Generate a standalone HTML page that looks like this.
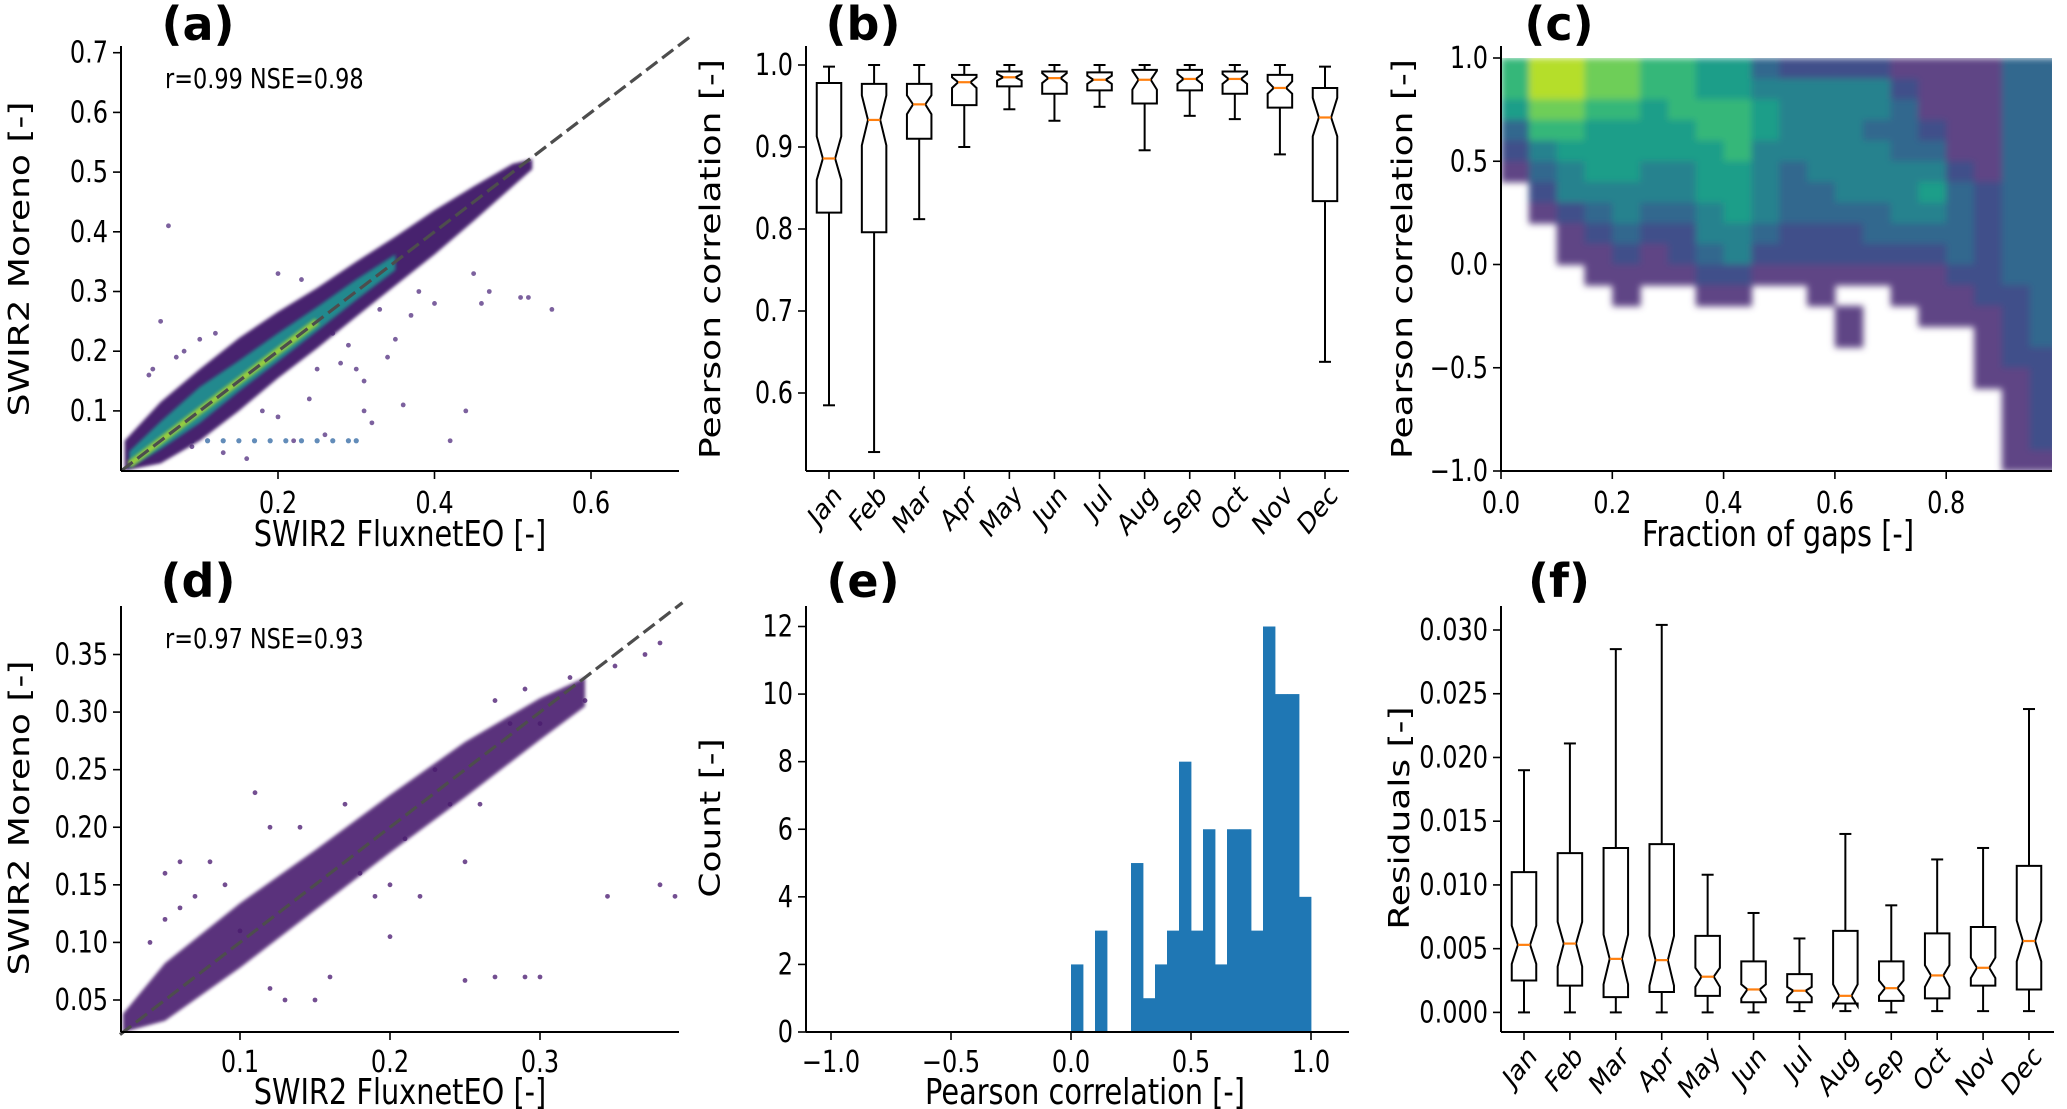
<!DOCTYPE html>
<html><head><meta charset="utf-8"><style>
html,body{margin:0;padding:0;background:#fff;}
svg{display:block;font-family:"DejaVu Sans","Liberation Sans",sans-serif;}
</style></head><body>
<svg id="fig" width="2067" height="1109" viewBox="0 0 2067 1109" xmlns="http://www.w3.org/2000/svg">
<defs>
<filter id="soft" x="-5%" y="-5%" width="110%" height="110%"><feGaussianBlur stdDeviation="1.6"/></filter>
<filter id="softc" x="-2%" y="-2%" width="104%" height="104%"><feGaussianBlur stdDeviation="3.5"/></filter>
</defs>
</svg>
<script>
// ---------- DATA ----------
const months = ["Jan","Feb","Mar","Apr","May","Jun","Jul","Aug","Sep","Oct","Nov","Dec"];
// panel b
const bLo  = [0.585,0.528,0.812,0.900,0.946,0.932,0.949,0.896,0.938,0.934,0.891,0.638];
const bQ1  = [0.820,0.796,0.910,0.951,0.974,0.965,0.969,0.953,0.969,0.965,0.948,0.834];
const bMed = [0.886,0.933,0.952,0.979,0.985,0.984,0.982,0.982,0.983,0.983,0.972,0.936];
const bQ3  = [0.978,0.977,0.977,0.988,0.992,0.992,0.991,0.994,0.994,0.992,0.988,0.972];
const bHi  = [0.998,1.000,1.000,1.000,1.000,1.000,1.000,1.000,1.000,1.000,1.000,0.998];
const bNLo = [0.860,0.902,0.940,0.972,0.981,0.978,0.977,0.970,0.977,0.977,0.965,0.913];
const bNHi = [0.913,0.963,0.963,0.985,0.989,0.990,0.987,0.993,0.989,0.989,0.980,0.960];
const bTicks = [0.6,0.7,0.8,0.9,1.0];
const bTickLabels = ["0.6","0.7","0.8","0.9","1.0"];
// panel f
const fLo  = [0,0,0,0,0,0,0.0001,0.0001,0,0.0001,0.0001,0.0001];
const fQ1  = [0.0025,0.0021,0.0012,0.0016,0.0013,0.0008,0.0008,0.0007,0.0009,0.0011,0.0021,0.0018];
const fMed = [0.0053,0.0054,0.0042,0.0041,0.0028,0.0018,0.0017,0.0013,0.0019,0.0029,0.0035,0.0056];
const fQ3  = [0.0110,0.0125,0.0129,0.0132,0.0060,0.0040,0.0030,0.0064,0.0040,0.0062,0.0067,0.0115];
const fHi  = [0.0190,0.0211,0.0285,0.0304,0.0108,0.0078,0.0058,0.0140,0.0084,0.0120,0.0129,0.0238];
const fNLo = [0.0038,0.0036,0.0022,0.0021,0.0020,0.0011,0.0012,0.0005,0.0013,0.0020,0.0027,0.0040];
const fNHi = [0.0068,0.0071,0.0061,0.0060,0.0035,0.0022,0.0020,0.0022,0.0025,0.0037,0.0043,0.0072];
const fTicks = [0,0.005,0.01,0.015,0.02,0.025,0.03];
const fTickLabels = ["0.000","0.005","0.010","0.015","0.020","0.025","0.030"];
// panel e histogram
const eBinStart = [0,0.05,0.1,0.15,0.2,0.25,0.3,0.35,0.4,0.45,0.5,0.55,0.6,0.65,0.7,0.75,0.8,0.85,0.9,0.95];
const eCounts   = [2,0,3,0,0,5,1,2,3,8,3,6,2,6,6,3,12,10,10,4];
const eXTicks = [-1,-0.5,0,0.5,1];
const eXTickLabels = ["\u22121.0","\u22120.5","0.0","0.5","1.0"];
const eYTicks = [0,2,4,6,8,10,12];
const eYTickLabels = ["0","2","4","6","8","10","12"];
// panel a
const aBandX  = [0.004,0.05,0.10,0.15,0.20,0.25,0.30,0.35,0.40,0.45,0.50,0.525];
const aBandLo = [0.000,0.012,0.050,0.100,0.155,0.205,0.258,0.310,0.362,0.418,0.476,0.505];
const aBandHi = [0.050,0.115,0.170,0.222,0.266,0.306,0.350,0.392,0.436,0.476,0.514,0.522];
const aCoreX  = [0.01,0.05,0.10,0.15,0.20,0.25,0.30,0.35];
const aCoreLo = [0.004,0.036,0.080,0.133,0.183,0.234,0.286,0.336];
const aCoreHi = [0.032,0.082,0.140,0.184,0.230,0.274,0.320,0.362];
const aOutX = [0.06,0.05,0.035,0.20,0.23,0.34,0.44,0.42,0.36,0.51,0.52,0.55,0.47,0.45,0.46,0.40,0.38,0.35,0.30,0.31,0.28,0.25,0.24,0.20,0.22,0.18,0.15,0.31,0.32,0.26,0.13,0.16,0.09,0.07,0.10,0.12,0.08,0.04,0.37,0.33,0.29,0.27];
const aOutY = [0.41,0.25,0.16,0.33,0.32,0.19,0.10,0.05,0.11,0.29,0.29,0.27,0.30,0.33,0.28,0.28,0.30,0.22,0.17,0.15,0.18,0.17,0.12,0.09,0.05,0.10,0.12,0.10,0.08,0.06,0.03,0.02,0.04,0.19,0.22,0.23,0.20,0.17,0.26,0.27,0.21,0.23];
const aLineX = [0.07,0.09,0.11,0.13,0.15,0.17,0.19,0.21,0.23,0.25,0.27,0.29,0.30];
const aLineY = [0.05,0.05,0.05,0.05,0.05,0.05,0.05,0.05,0.05,0.05,0.05,0.05,0.05];
const aTicksX = [0.2,0.4,0.6], aTickLabelsX = ["0.2","0.4","0.6"];
const aTicksY = [0.1,0.2,0.3,0.4,0.5,0.6,0.7], aTickLabelsY = ["0.1","0.2","0.3","0.4","0.5","0.6","0.7"];
// panel d
const dBandX  = [0.022,0.05,0.10,0.15,0.20,0.25,0.30,0.33];
const dBandLo = [0.022,0.032,0.078,0.128,0.178,0.226,0.276,0.305];
const dBandHi = [0.038,0.082,0.134,0.180,0.228,0.274,0.312,0.330];
const dOutX = [0.05,0.06,0.08,0.12,0.14,0.17,0.11,0.05,0.04,0.06,0.07,0.09,0.12,0.13,0.15,0.16,0.19,0.20,0.22,0.25,0.27,0.29,0.30,0.25,0.20,0.345,0.38,0.39,0.38,0.37,0.32,0.35,0.27,0.29,0.28,0.24,0.26,0.10,0.18,0.30,0.33,0.23,0.21];
const dOutY = [0.16,0.17,0.17,0.20,0.20,0.22,0.23,0.12,0.10,0.13,0.14,0.15,0.06,0.05,0.05,0.07,0.14,0.15,0.14,0.17,0.07,0.07,0.07,0.067,0.105,0.14,0.15,0.14,0.36,0.35,0.33,0.34,0.31,0.32,0.29,0.22,0.22,0.11,0.16,0.29,0.31,0.25,0.19];
const dTicksX = [0.1,0.2,0.3], dTickLabelsX = ["0.1","0.2","0.3"];
const dTicksY = [0.05,0.10,0.15,0.20,0.25,0.30,0.35], dTickLabelsY = ["0.05","0.10","0.15","0.20","0.25","0.30","0.35"];
// panel c heat grid: columns x 0..1 step 0.05, rows from y=1.0 (top) down to -1.0 step 0.1
const cGrid = [
 [6,8,8,7,7,6,6,5,5,3,2,2,2,2,1,1,1,1,3,3],
 [6,8,8,7,7,6,6,5,5,4,4,4,4,4,2,1,1,1,3,3],
 [5,7,7,6,6,5,6,6,6,5,4,4,4,4,3,1,1,1,3,3],
 [3,6,6,5,5,5,5,6,6,5,4,4,4,3,3,2,1,1,3,3],
 [2,4,5,5,5,5,5,5,6,4,4,4,4,4,3,3,1,1,3,3],
 [1,3,4,5,5,4,4,5,5,4,3,4,4,4,4,4,2,1,3,3],
 [0,2,4,4,4,4,4,5,5,4,3,3,4,4,4,5,3,2,3,3],
 [0,1,2,3,4,3,3,4,5,4,3,3,3,3,4,4,3,2,3,3],
 [0,0,1,2,3,2,2,4,4,3,2,2,2,3,3,3,3,2,3,3],
 [0,0,1,1,2,1,2,3,4,2,2,2,2,2,2,2,3,2,3,3],
 [0,0,0,1,1,1,1,2,2,1,1,1,1,1,1,1,2,2,3,3],
 [0,0,0,0,1,0,0,1,1,0,0,1,0,0,1,1,1,2,2,3],
 [0,0,0,0,0,0,0,0,0,0,0,0,1,0,0,1,1,1,2,3],
 [0,0,0,0,0,0,0,0,0,0,0,0,1,0,0,0,0,1,2,3],
 [0,0,0,0,0,0,0,0,0,0,0,0,0,0,0,0,0,1,2,2],
 [0,0,0,0,0,0,0,0,0,0,0,0,0,0,0,0,0,1,1,2],
 [0,0,0,0,0,0,0,0,0,0,0,0,0,0,0,0,0,0,1,2],
 [0,0,0,0,0,0,0,0,0,0,0,0,0,0,0,0,0,0,1,2],
 [0,0,0,0,0,0,0,0,0,0,0,0,0,0,0,0,0,0,1,2],
 [0,0,0,0,0,0,0,0,0,0,0,0,0,0,0,0,0,0,1,1]
];
const cTicksX = [0,0.2,0.4,0.6,0.8], cTickLabelsX = ["0.0","0.2","0.4","0.6","0.8"];
const cTicksY = [-1,-0.5,0,0.5,1], cTickLabelsY = ["\u22121.0","\u22120.5","0.0","0.5","1.0"];
const viridis = ["#ffffff","#5e4585","#3f4f8a","#31688e","#26828e","#1f9e89","#35b779","#6ece58","#b5de2b","#fde725"];

// ---------- HELPERS ----------
const NS="http://www.w3.org/2000/svg";
const svg=document.getElementById('fig');
const TICK=30, TITLE=36, MONTH=29;
function mk(tag,attrs,parent){const e=document.createElementNS(NS,tag);for(const k in attrs)e.setAttribute(k,attrs[k]);(parent||svg).appendChild(e);return e;}
function txt(x,y,s,size,anchor,rot,weight,parent,sx){
  const t=mk('text',{x:0,y:0,'font-size':size,'text-anchor':anchor||'start',fill:'#000',transform:`translate(${x},${y}) scale(${sx||0.8},1) rotate(${rot||0})`},parent);
  if(weight)t.setAttribute('font-weight',weight);
  t.textContent=s;return t;}
function lin(d0,d1,r0,r1){return v=>r0+(v-d0)/(d1-d0)*(r1-r0);}
function axes(g,L,T,R,B){
  mk('line',{x1:L,y1:T,x2:L,y2:B,stroke:'#000','stroke-width':2},g);
  mk('line',{x1:L,y1:B,x2:R,y2:B,stroke:'#000','stroke-width':2},g);}
function yticks(g,L,ys,vals,labels){vals.forEach((v,i)=>{const y=ys(v);
  mk('line',{x1:L-8,y1:y,x2:L,y2:y,stroke:'#000','stroke-width':1.6},g);
  const t=txt(L-13,y+10,labels[i],TICK,'end',0,null,g);
  
  });}
function xticks(g,B,xs,vals,labels,ty){vals.forEach((v,i)=>{const x=xs(v);
  mk('line',{x1:x,y1:B,x2:x,y2:B+8,stroke:'#000','stroke-width':1.6},g);
  const t=txt(x,ty,labels[i],TICK,'middle',0,null,g);
  
  });}
function group(name){const g=mk('g',{});return g;}
function panelLabel(g,x,y,s){const t=txt(x,y,s,46,'middle',0,'bold',g,1);}

// ---------- PANEL A ----------
(function(){
  const g=group('panel-a');
  const L=121,R=679,T=46,B=471;
  const xs=lin(0,0.2,121.5,278), ys=lin(0,0.1,470.6,410.9);
  const cl=mk('clipPath',{id:'clipA'},g); mk('rect',{x:L,y:T,width:R-L,height:B-T},cl);
  const pg=mk('g',{'clip-path':'url(#clipA)'},g);
  aOutX.forEach((x,i)=>{const c=mk('circle',{cx:xs(x),cy:ys(aOutY[i]),r:2.4,fill:'#5b3a86',opacity:0.8},pg);
    
    });
  aLineX.forEach((x,i)=>{const c=mk('circle',{cx:xs(x),cy:ys(aLineY[i]),r:2.6,fill:'#3b6fa8',opacity:0.8},pg);
    
    });
  let p=aBandX.map((x,i)=>`${xs(x)},${ys(aBandHi[i])}`).concat(aBandX.map((x,i)=>`${xs(x)},${ys(aBandLo[i])}`).reverse());
  const band=mk('polygon',{points:p.join(' '),fill:'#46206e',filter:'url(#soft)'},pg);
   
  p=aCoreX.map((x,i)=>`${xs(x)},${ys(aCoreHi[i])}`).concat(aCoreX.map((x,i)=>`${xs(x)},${ys(aCoreLo[i])}`).reverse());
  const core=mk('polygon',{points:p.join(' '),fill:'#23898e',filter:'url(#soft)'},pg);
   
  mk('line',{x1:xs(0.01),y1:ys(0.01),x2:xs(0.25),y2:ys(0.25),stroke:'#b5de2b','stroke-width':7,opacity:0.8,filter:'url(#soft)'},pg);
  const dl=mk('line',{x1:xs(0),y1:ys(0),x2:xs(0.73),y2:ys(0.73),stroke:'#4d4d4d','stroke-width':3.2,'stroke-dasharray':'14 6'},g);
   
  axes(g,L,T,R,B);
  yticks(g,L,ys,aTicksY,aTickLabelsY);
  xticks(g,B,xs,aTicksX,aTickLabelsX,513);
  let t=txt(165,88,'r=0.99 NSE=0.98',28,'start',0,null,g);  
  t=txt(400,546,'SWIR2 FluxnetEO [-]',TITLE,'middle',0,null,g);  
  t=txt(29,259,'SWIR2 Moreno [-]',TITLE,'middle',-90,null,g);  
  panelLabel(g,198,40,'(a)');
})();

// ---------- BOX PANELS ----------
function boxPanel(name,L,T,R,B,x0,dx,ys,lo,q1,med,q3,hi,nlo,nhi,ticks,labels,labelY){
  const g=group(name);
  const w=24.5, cap=6;
  months.forEach((m,i)=>{
    const x=x0+i*dx, l=x-w/2, r=x+w/2, ql=x-w/4, qr=x+w/4;
    const bg=mk('g',{},g);
    
    
    mk('line',{x1:x,y1:ys(q1[i]),x2:x,y2:ys(lo[i]),stroke:'#000','stroke-width':2},bg);
    mk('line',{x1:x,y1:ys(q3[i]),x2:x,y2:ys(hi[i]),stroke:'#000','stroke-width':2},bg);
    mk('line',{x1:x-cap,y1:ys(lo[i]),x2:x+cap,y2:ys(lo[i]),stroke:'#000','stroke-width':2},bg);
    mk('line',{x1:x-cap,y1:ys(hi[i]),x2:x+cap,y2:ys(hi[i]),stroke:'#000','stroke-width':2},bg);
    const pts=[[l,ys(q1[i])],[r,ys(q1[i])],[r,ys(nlo[i])],[qr,ys(med[i])],[r,ys(nhi[i])],[r,ys(q3[i])],[l,ys(q3[i])],[l,ys(nhi[i])],[ql,ys(med[i])],[l,ys(nlo[i])]];
    mk('polygon',{points:pts.map(p=>p.join(',')).join(' '),fill:'none',stroke:'#000','stroke-width':2,'stroke-linejoin':'miter'},bg);
    mk('line',{x1:ql,y1:ys(med[i]),x2:qr,y2:ys(med[i]),stroke:'#ff7f0e','stroke-width':2.2},bg);
    mk('line',{x1:x,y1:B,x2:x,y2:B+8,stroke:'#000','stroke-width':1.6},g);
    const t=txt(x+14,labelY,m,MONTH,'end',-45,null,g);
    
    
  });
  axes(g,L,T,R,B);
  yticks(g,L,ys,ticks,labels);
  return g;
}
(function(){
  const g=boxPanel('panel-b',806,46,1349,471,829,(1325-829)/11,lin(0.6,1.0,393,65),bLo,bQ1,bMed,bQ3,bHi,bNLo,bNHi,bTicks,bTickLabels,497);
  let t=txt(720,259,'Pearson correlation [-]',TITLE,'middle',-90,null,g);  
  panelLabel(g,863,40,'(b)');
})();
(function(){
  const g=boxPanel('panel-f',1501,606,2054,1032,1524,(2029-1524)/11,lin(0,0.03,1012.4,630),fLo,fQ1,fMed,fQ3,fHi,fNLo,fNHi,fTicks,fTickLabels,1058);
  let t=txt(1409,818,'Residuals [-]',TITLE,'middle',-90,null,g);  
  panelLabel(g,1559,597,'(f)');
})();

// ---------- PANEL C ----------
(function(){
  const g=group('panel-c');
  const L=1501,R=2052,T=46,B=471;
  const xs=lin(0,0.2,1501,1612.3), ys=lin(-1,1,471,58);
  const cl=mk('clipPath',{id:'clipC'},g); mk('rect',{x:L+1,y:58,width:R-L-1,height:B-58},cl);
  const hg=mk('g',{'clip-path':'url(#clipC)'},g);
  const inner=mk('g',{filter:'url(#softc)'},hg);
  cGrid.forEach((row,ri)=>{const yTop=1-ri*0.1;
    row.forEach((v,ci)=>{ if(!v) return;
      const x=ci*0.05;
      const r=mk('rect',{x:xs(x),y:ys(yTop),width:xs(x+0.05)-xs(x)+0.6,height:ys(yTop-0.1)-ys(yTop)+0.6,fill:viridis[v]},inner);
      
      
    });});
  axes(g,L,T,R,B);
  yticks(g,L,ys,cTicksY,cTickLabelsY);
  xticks(g,B,xs,cTicksX,cTickLabelsX,513);
  let t=txt(1778,546,'Fraction of gaps [-]',TITLE,'middle',0,null,g);  
  t=txt(1412,259,'Pearson correlation [-]',TITLE,'middle',-90,null,g);  
  panelLabel(g,1559,40,'(c)');
})();

// ---------- PANEL D ----------
(function(){
  const g=group('panel-d');
  const L=121,R=679,T=606,B=1032;
  const xs=lin(0.1,0.2,240,390), ys=lin(0.05,0.35,1000,654.5);
  const cl=mk('clipPath',{id:'clipD'},g); mk('rect',{x:L,y:T,width:R-L,height:B-T},cl);
  const pg=mk('g',{'clip-path':'url(#clipD)'},g);
  dOutX.forEach((x,i)=>{const c=mk('circle',{cx:xs(x),cy:ys(dOutY[i]),r:2.4,fill:'#5b2f7e',opacity:0.85},pg);
    
    });
  const p=dBandX.map((x,i)=>`${xs(x)},${ys(dBandHi[i])}`).concat(dBandX.map((x,i)=>`${xs(x)},${ys(dBandLo[i])}`).reverse());
  const band=mk('polygon',{points:p.join(' '),fill:'#4a1c6e',opacity:0.9,filter:'url(#soft)'},pg);
   
  const dl=mk('line',{x1:xs(0.02),y1:ys(0.02),x2:xs(0.395),y2:ys(0.395),stroke:'#4d4d4d','stroke-width':3.2,'stroke-dasharray':'14 6'},g);
   
  axes(g,L,T,R,B);
  yticks(g,L,ys,dTicksY,dTickLabelsY);
  xticks(g,B,xs,dTicksX,dTickLabelsX,1072);
  let t=txt(165,648,'r=0.97 NSE=0.93',28,'start',0,null,g);  
  t=txt(400,1104,'SWIR2 FluxnetEO [-]',TITLE,'middle',0,null,g);  
  t=txt(29,818,'SWIR2 Moreno [-]',TITLE,'middle',-90,null,g);  
  panelLabel(g,198,597,'(d)');
})();

// ---------- PANEL E ----------
(function(){
  const g=group('panel-e');
  const L=806,R=1349,T=606,B=1032;
  const xs=lin(0,0.5,1071,1191), ys=lin(0,12,1032,626.5);
  eBinStart.forEach((s,i)=>{ if(!eCounts[i]) return;
    const r=mk('rect',{x:xs(s),y:ys(eCounts[i]),width:xs(s+0.05)-xs(s)+0.4,height:ys(0)-ys(eCounts[i]),fill:'#1f77b4'},g);
    
    });
  axes(g,L,T,R,B);
  yticks(g,L,ys,eYTicks,eYTickLabels);
  xticks(g,B,xs,eXTicks,eXTickLabels,1072);
  let t=txt(1085,1104,'Pearson correlation [-]',TITLE,'middle',0,null,g);  
  t=txt(720,818,'Count [-]',TITLE,'middle',-90,null,g);  
  panelLabel(g,863,597,'(e)');
})();
</script>
</body></html>
